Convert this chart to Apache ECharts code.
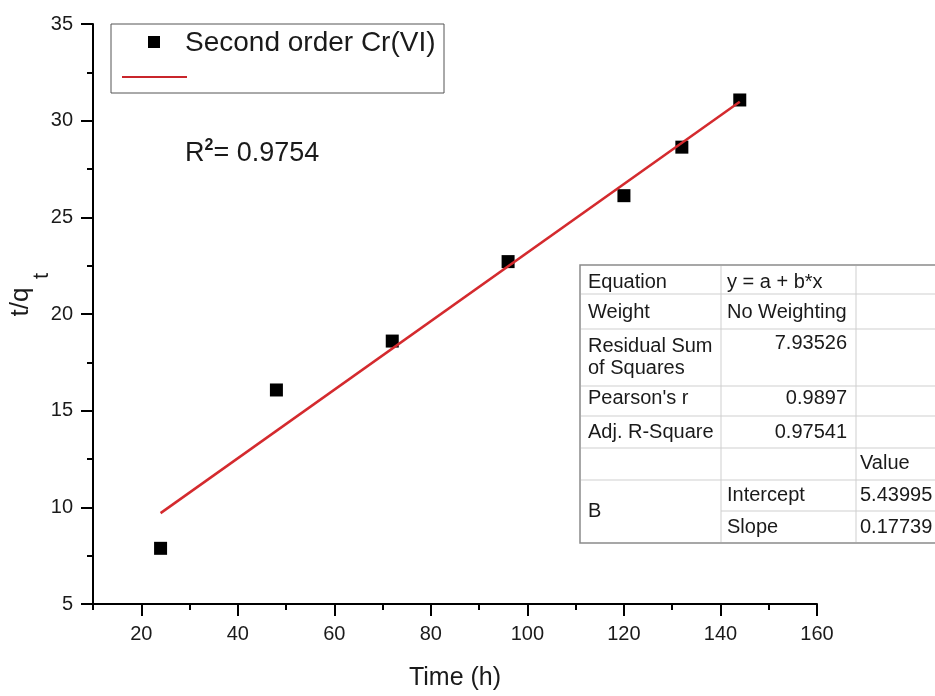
<!DOCTYPE html>
<html>
<head>
<meta charset="utf-8">
<script src="https://cdn.jsdelivr.net/npm/echarts@6/dist/echarts.min.js"></script>
<style>
  html, body { margin: 0; padding: 0; background: #fff; }
  #chart { width: 935px; height: 696px; }
</style>
</head>
<body>
<div id="chart"></div>
<script>
// Pseudo-second-order kinetics of Cr(VI): t/qt against contact time
const timeH = [24, 48, 72, 96, 120, 132, 144];
const tOverQ = [7.88, 16.07, 18.6, 22.71, 26.12, 28.63, 31.07];

// Linear fit y = a + b*x, evaluated at the first and last time
const fitX = [24, 144];
const fitY = [9.70, 30.98];

const xMajorTicks = [20, 40, 60, 80, 100, 120, 140, 160];
const xMinorTicks = [10, 30, 50, 70, 90, 110, 130, 150];
const yMajorTicks = [5, 10, 15, 20, 25, 30, 35];
const yMinorTicks = [7.5, 12.5, 17.5, 22.5, 27.5, 32.5];

const seriesName = 'Second order Cr(VI)';
const rSquared = '0.9754';

// Fit statistics table
const statLabels = ['Equation', 'Weight', 'Residual Sum\nof Squares', "Pearson's r", 'Adj. R-Square'];
const statValues = ['y = a + b*x', 'No Weighting', '7.93526', '0.9897', '0.97541'];
const paramGroup = 'B';
const paramHeader = 'Value';
const paramNames = ['Intercept', 'Slope'];
const paramValues = ['5.43995', '0.17739'];

const FONT = '"Liberation Sans", Arial, Helvetica, sans-serif';
const INK = '#1a1a1a';

const chart = echarts.init(document.getElementById('chart'), null, { renderer: 'canvas' });

function axisPair(dim, majors, minors, lo, hi, extra) {
  const main = Object.assign({
    type: 'value', min: lo, max: hi,
    position: dim === 'x' ? 'bottom' : 'left',
    axisLine: { show: true, onZero: false, lineStyle: { color: '#000', width: 2 } },
    axisTick: { show: true, customValues: majors, length: 12, lineStyle: { color: '#000', width: 2 } },
    axisLabel: { customValues: majors, margin: 20, fontSize: 20, color: INK, fontFamily: FONT },
    splitLine: { show: false }
  }, extra || {});
  const minor = {
    type: 'value', min: lo, max: hi,
    position: dim === 'x' ? 'bottom' : 'left',
    axisLine: { show: false, onZero: false },
    axisTick: { show: true, customValues: minors, length: 6, lineStyle: { color: '#000', width: 2 } },
    axisLabel: { show: false },
    splitLine: { show: false }
  };
  return [main, minor];
}

// Table layout
const tbl = {
  left: 580, top: 265, right: 990, bottom: 543,
  col1: 721, col2: 856,
  rowLines: [294, 329, 386, 416, 448, 480],
  splitLine: 511,
  labelCenters: [282, 312, 357, 398, 432],
  headerCenter: 463,
  paramCenters: [495, 527]
};

const tableGraphics = [];
tableGraphics.push({
  type: 'rect', z: 10,
  shape: { x: tbl.left, y: tbl.top, width: tbl.right - tbl.left, height: tbl.bottom - tbl.top },
  style: { fill: '#fff', stroke: '#8a8a8a', lineWidth: 1.5 }
});
[tbl.col1, tbl.col2].forEach(function (cx) {
  tableGraphics.push({ type: 'line', z: 11, shape: { x1: cx, y1: tbl.top + 1, x2: cx, y2: tbl.bottom - 1 },
    style: { stroke: '#cfcfcf', lineWidth: 1 } });
});
tbl.rowLines.forEach(function (ry) {
  tableGraphics.push({ type: 'line', z: 11, shape: { x1: tbl.left + 1, y1: ry, x2: tbl.right, y2: ry },
    style: { stroke: '#cfcfcf', lineWidth: 1 } });
});
tableGraphics.push({ type: 'line', z: 11, shape: { x1: tbl.col1, y1: tbl.splitLine, x2: tbl.right, y2: tbl.splitLine },
  style: { stroke: '#cfcfcf', lineWidth: 1 } });

function cellText(txt, x, y, align, lh) {
  return { type: 'text', z: 12, x: x, y: y,
    style: { text: txt, fontSize: 20, fontFamily: FONT, fill: INK, align: align, verticalAlign: 'middle', lineHeight: lh || 22 } };
}
statLabels.forEach(function (lab, i) {
  tableGraphics.push(cellText(lab, tbl.left + 8, tbl.labelCenters[i], 'left'));
});
statValues.forEach(function (val, i) {
  if (i < 2) {
    tableGraphics.push(cellText(val, tbl.col1 + 6, tbl.labelCenters[i], 'left'));
  } else {
    const cy = i === 2 ? 343 : tbl.labelCenters[i];
    tableGraphics.push(cellText(val, tbl.col2 - 9, cy, 'right'));
  }
});
tableGraphics.push(cellText(paramHeader, tbl.col2 + 4, tbl.headerCenter, 'left'));
tableGraphics.push(cellText(paramGroup, tbl.left + 8, (tbl.rowLines[5] + tbl.bottom) / 2, 'left'));
paramNames.forEach(function (n, i) {
  tableGraphics.push(cellText(n, tbl.col1 + 6, tbl.paramCenters[i], 'left'));
  tableGraphics.push(cellText(paramValues[i], tbl.col2 + 4, tbl.paramCenters[i], 'left'));
});

const legendGraphics = [
  { type: 'rect', z: 10, shape: { x: 111, y: 24, width: 333, height: 69 },
    style: { fill: '#fff', stroke: '#555', lineWidth: 1 } },
  { type: 'rect', z: 11, shape: { x: 148, y: 36, width: 12, height: 12 }, style: { fill: '#000' } },
  { type: 'text', z: 11, x: 185, y: 43,
    style: { text: seriesName, fontSize: 28, fontFamily: FONT, fill: INK, align: 'left', verticalAlign: 'middle' } },
  { type: 'line', z: 11, shape: { x1: 122, y1: 77, x2: 187, y2: 77 },
    style: { stroke: '#c9252b', lineWidth: 2 } }
];

const annotationGraphics = [
  { type: 'text', z: 11, x: 185, y: 154,
    style: {
      text: '{r|R}{s|2}{r|= ' + rSquared + '}',
      align: 'left', verticalAlign: 'middle',
      rich: {
        r: { fontSize: 27, fontFamily: FONT, fill: INK, lineHeight: 32 },
        s: { fontSize: 16, fontWeight: 'bold', fontFamily: FONT, fill: INK, verticalAlign: 'top', lineHeight: 16 }
      }
    } },
  // y-axis title t/q with subscript t, reading bottom to top
  { type: 'text', z: 11, x: 21, y: 302, rotation: Math.PI / 2,
    style: { text: 't/q', fontSize: 26, fontFamily: FONT, fill: INK, align: 'center', verticalAlign: 'middle' } },
  { type: 'text', z: 11, x: 42, y: 276, rotation: Math.PI / 2,
    style: { text: 't', fontSize: 22, fontFamily: FONT, fill: INK, align: 'center', verticalAlign: 'middle' } }
];

const option = {
  backgroundColor: '#fff',
  animation: false,
  grid: { left: 93, right: 118, top: 24, bottom: 92, containLabel: false },
  xAxis: axisPair('x', xMajorTicks, xMinorTicks, 10, 160, {
    name: 'Time (h)', nameLocation: 'middle', nameGap: 62,
    nameTextStyle: { fontSize: 25, fontFamily: FONT, color: INK }
  }),
  yAxis: axisPair('y', yMajorTicks, yMinorTicks, 5, 35),
  series: [
    {
      name: seriesName, type: 'scatter', xAxisIndex: 0, yAxisIndex: 0,
      symbol: 'rect', symbolSize: 13,
      itemStyle: { color: '#000', opacity: 1 },
      data: timeH.map(function (t, i) { return [t, tOverQ[i]]; })
    },
    {
      name: 'Linear fit', type: 'line', xAxisIndex: 0, yAxisIndex: 0,
      showSymbol: false, symbol: 'none',
      lineStyle: { color: '#d42a2e', width: 2.5 },
      data: fitX.map(function (x, i) { return [x, fitY[i]]; })
    }
  ],
  graphic: legendGraphics.concat(annotationGraphics, tableGraphics)
};

chart.setOption(option);
</script>
</body>
</html>
